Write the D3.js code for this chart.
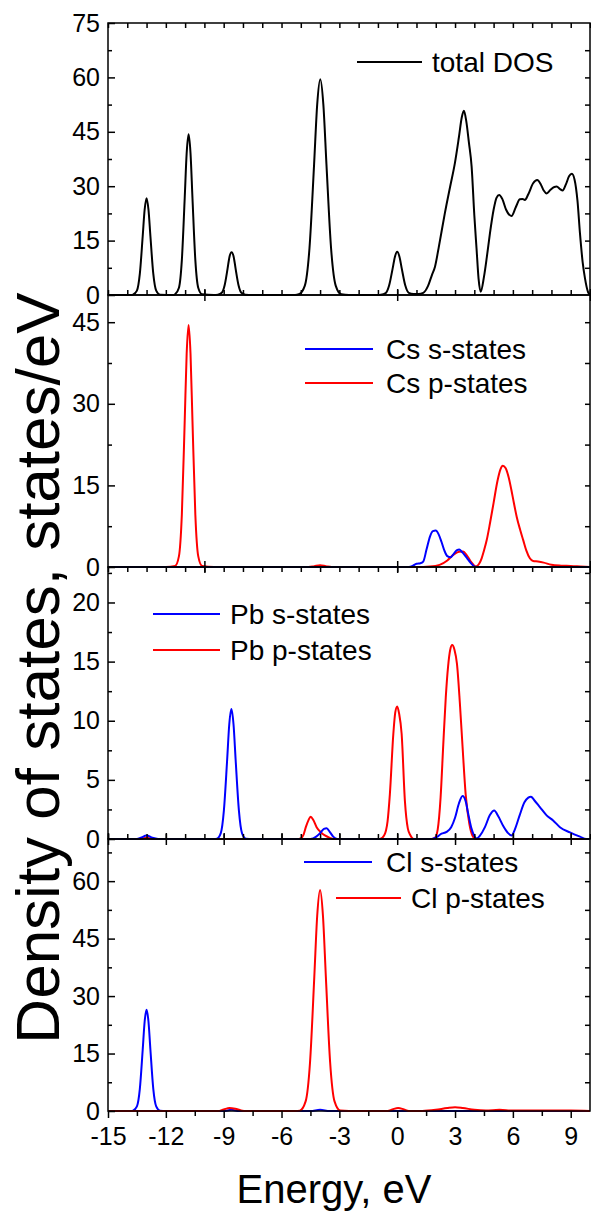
<!DOCTYPE html>
<html>
<head>
<meta charset="utf-8">
<script src="https://cdn.jsdelivr.net/npm/d3@7"></script>
<style>
  body { margin: 0; background: #fff; }
  svg text { font-family: 'Liberation Sans', Arial, sans-serif; fill: #000; }
</style>
</head>
<body>
<svg id="chart" width="591" height="1213"></svg>
<script>
// energy axis labels
var energyTicks = [-15, -12, -9, -6, -3, 0, 3, 6, 9];

// [energy eV, DOS states/eV]
var totalDOS = [[-15,0],[-13.75,0],
  [-13.7,0.1],[-13.5,1.2],[-13.35,5.8],[-13.2,16.2],[-13.1,23.5],[-13.0,26.7],[-12.9,23.5],[-12.8,16.2],[-12.65,5.8],[-12.5,1.2],[-12.3,0.1],
  [-11.6,0],
  [-11.52,0.2],[-11.32,2.0],[-11.17,9.6],[-11.02,26.9],[-10.92,39.1],[-10.82,44.3],[-10.72,39.1],[-10.62,26.9],[-10.47,9.6],[-10.32,2.0],[-10.12,0.2],
  [-9.5,0],
  [-9.3,0.1],[-9.1,0.6],[-8.95,2.7],[-8.8,7.2],[-8.7,10.5],[-8.59,11.8],[-8.48,10.5],[-8.38,7.2],[-8.23,2.7],[-8.08,0.6],[-7.88,0.1],
  [-7.5,0],[-5.3,0],
  [-5.1,0.2],[-4.79,2.6],[-4.55,12.9],[-4.31,36.1],[-4.15,52.5],[-3.99,59.5],[-3.83,52.5],[-3.67,36.1],[-3.43,12.9],[-3.19,2.6],[-2.9,0.2],
  [-2.5,0],[-1.0,0],
  [-0.85,0.05],[-0.6,0.5],[-0.42,2.6],[-0.24,7.2],[-0.12,10.5],[0,11.9],[0.12,10.5],[0.24,7.2],[0.42,2.6],[0.6,0.6],[0.85,0.3],
  [1.1,0.3],[1.35,0.6],[1.6,2.5],[1.8,5.5],[1.96,7.8],[2.15,13],[2.47,22.5],[2.75,30],[2.99,36.3],[3.2,43.5],[3.35,49],[3.46,50.8],
  [3.58,48],[3.72,42],[3.86,35.4],[4.0,22],[4.12,12.4],[4.22,4.5],[4.33,0.9],[4.5,5],[4.65,10.5],[4.81,17],[5.0,23.5],[5.15,26.8],
  [5.29,27.6],[5.45,26.5],[5.65,23.5],[5.93,21.8],[6.15,24.2],[6.36,26.4],[6.5,26.5],[6.62,26.2],[6.8,27.8],[7.05,30.8],[7.26,31.7],
  [7.45,30.5],[7.6,28.8],[7.75,28],[7.95,29],[8.15,29.8],[8.27,29.9],[8.45,29.2],[8.58,28.8],[8.75,30.5],[8.92,32.8],[9.06,33.4],
  [9.2,31.8],[9.35,26],[9.48,17],[9.62,9],[9.74,4.6],[9.9,0.8],[10,0]];

var csS = [[-15,0],[0.6,0],[0.8,0.2],[1.0,0.6],[1.2,0.7],[1.35,1.0],[1.52,3.2],[1.7,5.6],[1.85,6.6],[2.0,6.7],[2.15,6.0],[2.3,4.6],
  [2.45,3.0],[2.6,2.0],[2.77,1.8],[2.95,2.5],[3.1,3.1],[3.22,3.2],[3.35,2.8],[3.5,2.2],[3.63,1.6],[3.8,0.8],[4.03,0.05],[4.3,0],[10,0]];

var csP = [[-15,0],[-12,0],
  [-11.52,0.2],[-11.32,2.0],[-11.17,9.6],[-11.02,27],[-10.92,39.2],[-10.82,44.5],[-10.72,39.2],[-10.62,27],[-10.47,9.6],[-10.32,2.0],[-10.12,0.2],
  [-9.5,0],[-4.6,0],[-4.3,0.15],[-4.0,0.3],[-3.7,0.15],[-3.4,0],[1.0,0],[1.7,0.1],[2.2,0.4],[2.6,1.2],[2.9,2.2],[3.2,2.8],[3.42,2.85],
  [3.6,2.2],[3.8,1.1],[4.08,0.1],[4.25,0.6],[4.38,1.6],[4.5,3.0],[4.64,4.9],[4.81,8.0],[5.0,11.8],[5.2,15.8],[5.35,17.9],[5.48,18.6],
  [5.62,18.2],[5.78,16.5],[5.92,14.2],[6.05,11.8],[6.2,9.2],[6.38,6.8],[6.54,4.9],[6.7,3.0],[6.88,1.6],[7.05,1.1],[7.3,1.0],[7.6,0.8],
  [8.0,0.4],[8.5,0.25],[9.0,0.2],[9.5,0.1],[10,0]];

var pbS = [[-15,0],[-13.5,0],[-13.3,0.1],[-13.0,0.3],[-12.7,0.1],[-12.4,0],[-9.5,0],
  [-9.35,0.03],[-9.15,0.5],[-8.99,2.4],[-8.82,6.7],[-8.71,9.7],[-8.6,11.0],[-8.49,9.7],[-8.38,6.7],[-8.21,2.4],[-8.05,0.5],[-7.85,0.03],
  [-7.5,0],[-4.5,0],[-4.2,0.2],[-4.0,0.5],[-3.8,0.85],[-3.66,0.9],[-3.5,0.6],[-3.32,0.2],[-3.1,0],[1.8,0],[2.04,0.15],[2.3,0.45],
  [2.56,0.6],[2.8,1.0],[3.0,1.8],[3.2,3.0],[3.39,3.64],[3.55,3.2],[3.7,2.0],[3.85,0.9],[4.0,0.25],[4.12,0.05],[4.3,0.3],[4.55,1.0],
  [4.8,2.0],[5.03,2.42],[5.25,1.9],[5.5,1.1],[5.75,0.5],[5.93,0.3],[6.1,0.8],[6.35,2.0],[6.6,3.1],[6.8,3.5],[6.94,3.58],[7.1,3.3],
  [7.4,2.7],[7.75,2.0],[8.1,1.55],[8.44,1.0],[8.96,0.56],[9.48,0.2],[9.8,0],[10,0]];

var pbP = [[-15,0],[-13.4,0],[-13.0,0.1],[-12.6,0],[-5.2,0],[-5.01,0.05],[-4.85,0.4],[-4.74,1.0],[-4.6,1.6],[-4.49,1.89],[-4.35,1.6],
  [-4.18,1.0],[-3.95,0.55],[-3.75,0.3],[-3.5,0.1],[-3.32,0],
  [-0.9,0],[-0.68,0.3],[-0.5,1.5],[-0.38,3.8],[-0.2,8.9],[-0.1,10.7],[0,11.2],[0.1,10.6],[0.23,8.9],[0.4,3.2],[0.55,0.9],[0.69,0.3],[0.85,0],
  [1.8,0],[1.96,0.1],[2.1,0.8],[2.25,3.5],[2.39,8.0],[2.52,12],[2.64,14.6],[2.75,16],[2.85,16.4],[2.97,16],[3.1,14.8],[3.25,11.5],
  [3.39,7.8],[3.55,3.8],[3.74,1.3],[3.9,0.3],[4.08,0],[10,0]];

var clS = [[-15,0],[-13.8,0],
  [-13.7,0.1],[-13.5,1.2],[-13.35,5.7],[-13.2,16],[-13.1,23.3],[-13.0,26.4],[-12.9,23.3],[-12.8,16],[-12.65,5.7],[-12.5,1.2],[-12.3,0.1],
  [-12.0,0],[-9.0,0],[-8.6,0.3],[-8.2,0],[-4.5,0],[-4.0,0.3],[-3.5,0],[10,0]];

var clP = [[-15,0],[-9.3,0],[-9.0,0.4],[-8.7,0.8],[-8.4,0.6],[-8.1,0.15],[-7.8,0],[-5.3,0],
  [-5.05,0.1],[-4.75,2.5],[-4.52,12.8],[-4.3,35],[-4.15,50.9],[-4.0,57.7],[-3.85,50.9],[-3.7,35],[-3.48,12.8],[-3.25,2.5],[-2.95,0.1],
  [-2.5,0],[-0.5,0],[-0.25,0.4],[0.05,0.8],[0.35,0.4],[0.6,0],[1.3,0],[2.0,0.3],[2.6,0.8],[3.0,1.0],[3.4,0.8],[4.0,0.3],[4.6,0.1],
  [5.3,0.3],[6.0,0.1],[7,0.1],[9,0.1],[10,0]];

var BLUE = "#0000ff", RED = "#ff0000";

var panels = [
  { top: 23, bottom: 295, ymax: 75, major: [0,15,30,45,60,75], minor: 7.5,
    series: [{ data: totalDOS, color: "#000", label: "total DOS" }],
    legend: [{ x1: 357, x2: 422, y: 62, tx: 432 }],
    bottomTicks: { dir: "up", cross: [-10, 0, 10] } },
  { top: 295, bottom: 567, ymax: 50, major: [0,15,30,45], minor: 7.5,
    series: [{ data: csS, color: BLUE, label: "Cs s-states" }, { data: csP, color: RED, label: "Cs p-states" }],
    legend: [{ x1: 305, x2: 373, y: 349, tx: 386 }, { x1: 305, x2: 373, y: 383, tx: 386 }],
    bottomTicks: { dir: "down", cross: [-10, 0, 10] } },
  { top: 567, bottom: 839, ymax: 23, major: [0,5,10,15,20], minor: 2.5,
    series: [{ data: pbS, color: BLUE, label: "Pb s-states" }, { data: pbP, color: RED, label: "Pb p-states" }],
    legend: [{ x1: 153, x2: 220, y: 614, tx: 230 }, { x1: 153, x2: 220, y: 650, tx: 230 }],
    bottomTicks: { dir: "up", cross: energyTicks } },
  { top: 839, bottom: 1111, ymax: 71, major: [0,15,30,45,60], minor: 7.5,
    series: [{ data: clS, color: BLUE, label: "Cl s-states" }, { data: clP, color: RED, label: "Cl p-states" }],
    legend: [{ x1: 304, x2: 372, y: 862, tx: 386 }, { x1: 336, x2: 401, y: 898, tx: 411 }],
    bottomTicks: null }
];

var svg = d3.select("#chart");
svg.append("rect").attr("width", 591).attr("height", 1213).attr("fill", "#fff");

var x = d3.scaleLinear().domain([-15, 10]).range([108, 590]);
var minorE = d3.range(-15, 10.01, 1);
var plainNum = function(d) { return String(d); };   // hyphen minus like the original

function plainAxis(g) {
  g.select(".domain").remove();
  g.selectAll("line").attr("stroke", "#000").attr("stroke-width", 1.5);
}

panels.forEach(function(p, i) {
  var y = d3.scaleLinear().domain([0, p.ymax]).range([p.bottom, p.top]);
  var g = svg.append("g");

  // curves
  var line = d3.line().x(function(d) { return x(d[0]); }).y(function(d) { return y(d[1]); })
      .curve(d3.curveMonotoneX);
  var order = i === 3 ? p.series : p.series.slice().reverse();
  order.forEach(function(s) {
    g.append("path").datum(s.data).attr("d", line)
      .attr("fill", "none").attr("stroke", s.color).attr("stroke-width", 2);
  });

  // frame
  g.append("rect").attr("x", x(-15)).attr("y", p.top)
    .attr("width", x(10) - x(-15)).attr("height", p.bottom - p.top)
    .attr("fill", "none").attr("stroke", "#000").attr("stroke-width", 1.5);

  // left axis: labels + inward ticks
  var minorY = d3.range(0, p.ymax + 0.01, p.minor).filter(function(v) { return p.major.indexOf(v) < 0; });
  g.append("g").attr("transform", "translate(" + x(-15) + ",0)")
    .call(d3.axisLeft(y).tickValues(p.major).tickSize(-7).tickPadding(8).tickFormat(plainNum))
    .call(plainAxis)
    .selectAll("text").attr("font-size", 25);
  g.append("g").attr("transform", "translate(" + x(-15) + ",0)")
    .call(d3.axisLeft(y).tickValues(minorY).tickSize(-4).tickFormat(""))
    .call(plainAxis);
  // right axis
  g.append("g").attr("transform", "translate(" + x(10) + ",0)")
    .call(d3.axisRight(y).tickValues(d3.range(p.minor, p.ymax, p.minor)).tickSize(-5).tickFormat(""))
    .call(plainAxis);

  // top ticks of the first panel
  if (i === 0) {
    g.append("g").attr("transform", "translate(0," + p.top + ")")
      .call(d3.axisTop(x).tickValues(minorE).tickSize(-5).tickFormat(""))
      .call(plainAxis);
  }

  // bottom ticks
  if (p.bottomTicks) {
    var up = p.bottomTicks.dir === "up";
    g.append("g").attr("transform", "translate(0," + p.bottom + ")")
      .call(d3.axisBottom(x).tickValues(minorE).tickSize(up ? -5 : 5).tickFormat(""))
      .call(plainAxis);
    g.append("g").attr("transform", "translate(0," + p.bottom + ")")
      .call(d3.axisBottom(x).tickValues(p.bottomTicks.cross).tickSize(6).tickFormat(""))
      .call(plainAxis);
    g.append("g").attr("transform", "translate(0," + p.bottom + ")")
      .call(d3.axisBottom(x).tickValues(p.bottomTicks.cross).tickSize(-6).tickFormat(""))
      .call(plainAxis);
  } else {
    g.append("g").attr("transform", "translate(0," + p.bottom + ")")
      .call(d3.axisBottom(x).tickValues(energyTicks).tickSize(7).tickPadding(9).tickFormat(plainNum))
      .call(plainAxis)
      .selectAll("text").attr("font-size", 25);
    g.append("g").attr("transform", "translate(0," + p.bottom + ")")
      .call(d3.axisBottom(x).tickValues(energyTicks.map(function(e) { return e + 1.5; })).tickSize(5).tickFormat(""))
      .call(plainAxis);
  }

  // legend
  p.series.forEach(function(s, k) {
    var L = p.legend[k];
    g.append("line").attr("x1", L.x1).attr("x2", L.x2).attr("y1", L.y).attr("y2", L.y)
      .attr("stroke", s.color).attr("stroke-width", 2);
    g.append("text").attr("x", L.tx).attr("y", L.y).attr("dy", "0.35em")
      .attr("font-size", 28).text(s.label);
  });
});

// axis titles
svg.append("text").attr("x", 334).attr("y", 1203).attr("text-anchor", "middle")
  .attr("font-size", 40).text("Energy, eV");
svg.append("text").attr("transform", "translate(59,668) rotate(-90)").attr("text-anchor", "middle")
  .attr("font-size", 62).text("Density of states, states/eV");
</script>
</body>
</html>
